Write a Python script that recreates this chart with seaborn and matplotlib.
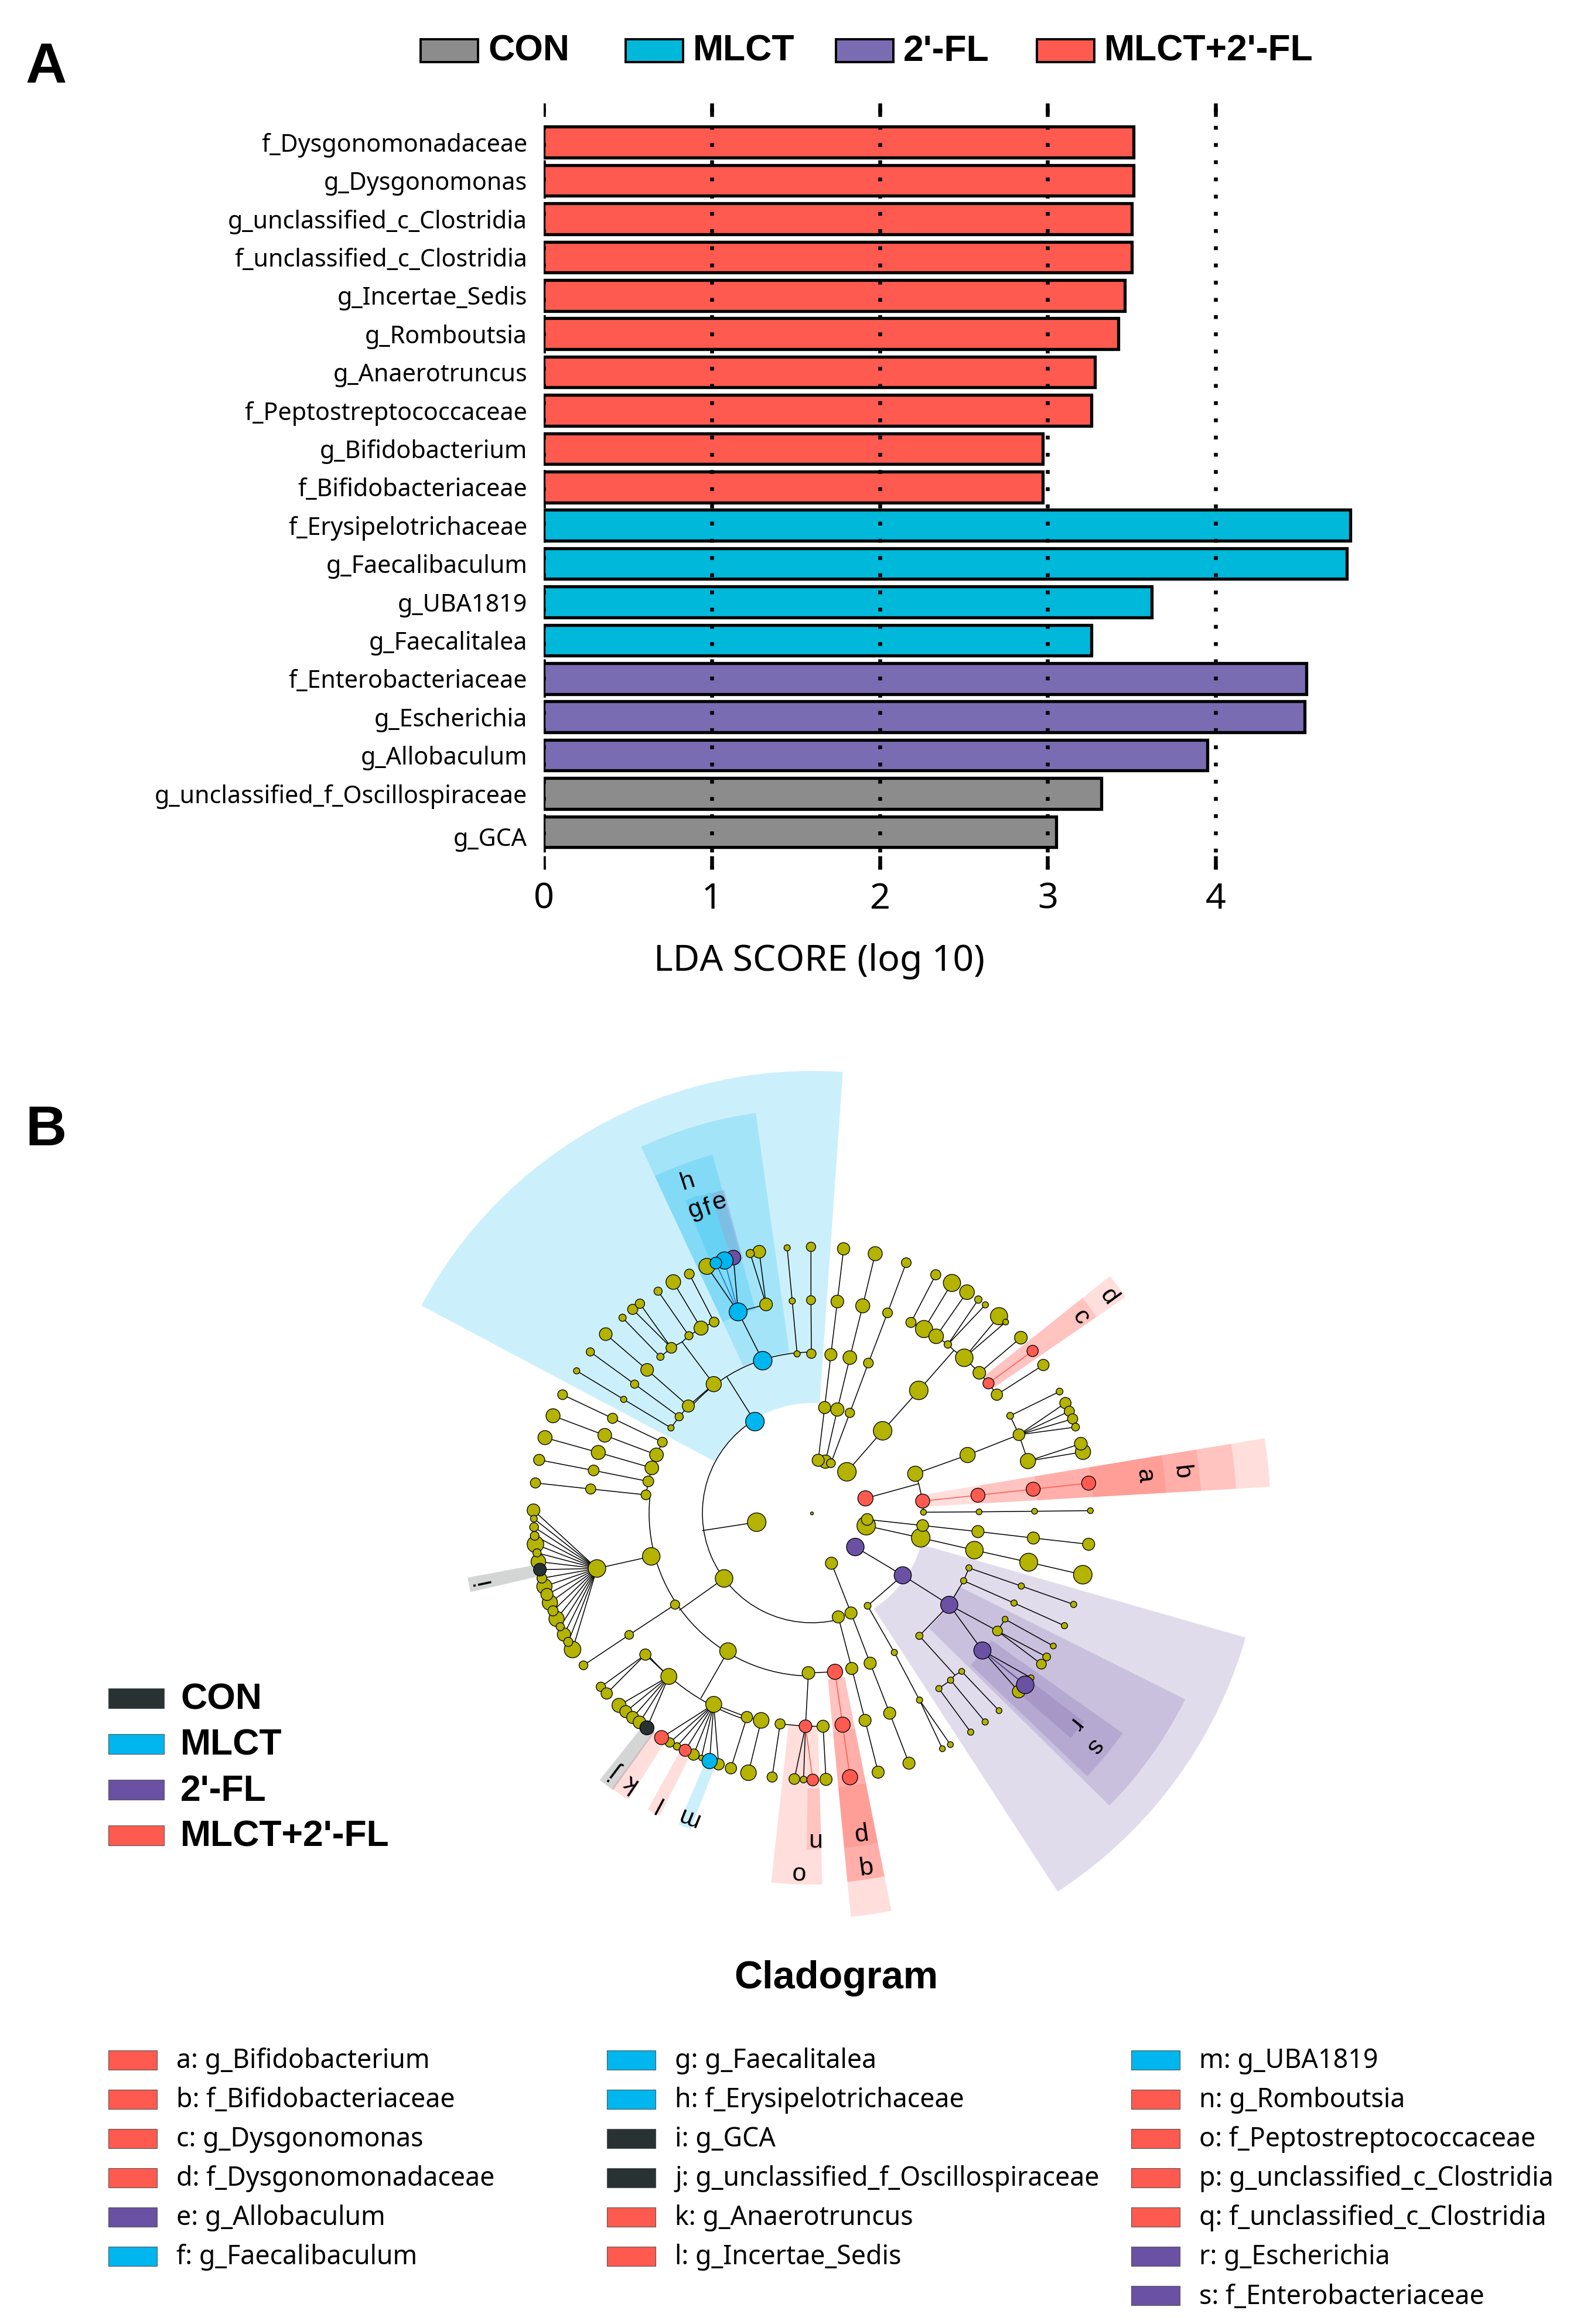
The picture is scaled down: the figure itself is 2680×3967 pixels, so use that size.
import matplotlib
matplotlib.use("Agg")
import matplotlib.pyplot as plt
from matplotlib.patches import Arc, Rectangle, Wedge
from matplotlib.transforms import ScaledTranslation
import pandas as pd
import seaborn as sns

# ── Data ───────────────────────────────────────────────────────────────────────
TAXA = ["f_Dysgonomonadaceae", "g_Dysgonomonas", "g_unclassified_c_Clostridia",
        "f_unclassified_c_Clostridia", "g_Incertae_Sedis", "g_Romboutsia",
        "g_Anaerotruncus", "f_Peptostreptococcaceae", "g_Bifidobacterium",
        "f_Bifidobacteriaceae", "f_Erysipelotrichaceae", "g_Faecalibaculum",
        "g_UBA1819", "g_Faecalitalea", "f_Enterobacteriaceae", "g_Escherichia",
        "g_Allobaculum", "g_unclassified_f_Oscillospiraceae", "g_GCA"]
LDA = [3.51, 3.51, 3.50, 3.50, 3.46, 3.42, 3.28, 3.26, 2.97, 2.97,
       4.80, 4.78, 3.62, 3.26, 4.54, 4.53, 3.95, 3.32, 3.05]
GROUP = ["MLCT+2'-FL"] * 10 + ["MLCT"] * 4 + ["2'-FL"] * 3 + ["CON"] * 2
GROUP_NAMES = ["CON", "MLCT", "2'-FL", "MLCT+2'-FL"]
LDA_TICKS = [0, 1, 2, 3, 4]

KEY_COL1 = [("a: g_Bifidobacterium", "R"), ("b: f_Bifidobacteriaceae", "R"),
            ("c: g_Dysgonomonas", "R"), ("d: f_Dysgonomonadaceae", "R"),
            ("e: g_Allobaculum", "P"), ("f: g_Faecalibaculum", "B")]
KEY_COL2 = [("g: g_Faecalitalea", "B"), ("h: f_Erysipelotrichaceae", "B"),
            ("i: g_GCA", "G"), ("j: g_unclassified_f_Oscillospiraceae", "G"),
            ("k: g_Anaerotruncus", "R"), ("l: g_Incertae_Sedis", "R")]
KEY_COL3 = [("m: g_UBA1819", "B"), ("n: g_Romboutsia", "R"),
            ("o: f_Peptostreptococcaceae", "R"), ("p: g_unclassified_c_Clostridia", "R"),
            ("q: f_unclassified_c_Clostridia", "R"), ("r: g_Escherichia", "P"),
            ("s: f_Enterobacteriaceae", "P")]

# cladogram nodes: id, x, y, diameter, group
# (x, y are in 3x crops of the four quadrants around the tree centre)
NODES_NW = [
    ("n1", 1256, 1040, 95, "B"), ("j1", 1113, 812, 0, "Y"), ("n3", 1296, 728, 95, "B"),
    ("n4", 1045, 848, 78, "Y"), ("n5", 915, 960, 62, "Y"), ("n6", 868, 1015, 42, "Y"),
    ("n7", 826, 1072, 32, "Y"), ("n8", 584, 926, 32, "Y"), ("n9", 343, 780, 32, "Y"),
    ("n10", 640, 848, 42, "Y"), ("n11", 413, 683, 42, "Y"), ("n12", 704, 775, 65, "Y"),
    ("n13", 492, 592, 65, "Y"), ("j2", 883, 632, 0, "Y"), ("n15", 828, 662, 55, "Y"),
    ("n16", 918, 600, 42, "Y"), ("n17", 980, 561, 72, "Y"), ("n18", 1047, 530, 50, "Y"),
    ("n19", 772, 708, 37, "Y"), ("n20", 578, 508, 37, "Y"), ("n21", 630, 465, 52, "Y"),
    ("n22", 667, 436, 48, "Y"), ("n23", 760, 372, 42, "Y"), ("n24", 838, 325, 75, "Y"),
    ("n25", 920, 284, 50, "Y"), ("n26", 1170, 478, 92, "B"), ("n27", 1313, 440, 65, "Y"),
    ("n28", 1010, 245, 82, "Y"), ("e", 1146, 200, 75, "P"), ("f", 1100, 215, 88, "B"),
    ("g", 1056, 228, 60, "B"), ("n32", 1278, 170, 65, "Y"), ("n33", 1232, 179, 42, "Y"),
    ("n34", 1472, 693, 32, "Y"), ("n35", 1447, 422, 32, "Y"), ("n36", 1421, 150, 32, "Y"),
    ("n37", 1545, 692, 48, "Y"), ("n38", 1543, 418, 46, "Y"), ("n39", 1543, 145, 48, "Y"),
    ("n40", 782, 1145, 50, "Y"), ("n41", 527, 1023, 52, "Y"), ("n42", 271, 902, 50, "Y"),
    ("n43", 752, 1210, 70, "Y"), ("n44", 487, 1110, 70, "Y"), ("n45", 222, 1010, 72, "Y"),
    ("n46", 728, 1277, 70, "Y"), ("n47", 454, 1198, 72, "Y"), ("n48", 181, 1122, 72, "Y"),
    ("n49", 710, 1346, 55, "Y"), ("n50", 430, 1290, 55, "Y"), ("n51", 151, 1236, 57, "Y"),
    ("n52", 698, 1415, 50, "Y"), ("n53", 415, 1385, 52, "Y"), ("n54", 132, 1354, 52, "Y"),
    ("core", 1548, 1510, 15, "Y"),
]
NODES_NE = [
    ("m1", 197, 1297, 95, "Y"), ("m2", 380, 1087, 95, "Y"), ("m3", 565, 880, 95, "Y"),
    ("j3", 745, 675, 0, "Y"), ("m5", 714, 645, 38, "Y"), ("m7", 652, 288, 52, "Y"),
    ("m9", 735, 330, 88, "Y"), ("m11", 812, 377, 75, "Y"), ("m12", 870, 415, 38, "Y"),
    ("m13", 906, 442, 32, "Y"), ("m6", 525, 532, 52, "Y"), ("m8", 592, 566, 88, "Y"),
    ("m10", 654, 603, 75, "Y"), ("m4", 798, 713, 90, "Y"), ("m14", 976, 500, 88, "Y"),
    ("m15", 1010, 530, 30, "Y"), ("m16", 875, 790, 65, "Y"), ("m18", 1088, 610, 65, "Y"),
    ("m17", 922, 844, 57, "R"), ("m19", 1148, 678, 58, "R"), ("m20", 965, 902, 58, "Y"),
    ("m21", 1203, 750, 58, "Y"),
    ("m23", 87, 1245, 68, "Y"), ("m22", 50, 1238, 62, "Y"), ("m24", 115, 1253, 45, "Y"),
    ("m25", 83, 968, 62, "Y"), ("m26", 148, 978, 68, "Y"), ("m27", 212, 995, 48, "Y"),
    ("m28", 115, 697, 62, "Y"), ("m29", 212, 712, 70, "Y"), ("m30", 307, 740, 50, "Y"),
    ("m31", 148, 425, 65, "Y"), ("m32", 278, 447, 72, "Y"), ("m33", 405, 483, 50, "Y"),
    ("m34", 180, 155, 63, "Y"), ("m35", 342, 180, 72, "Y"), ("m36", 501, 226, 50, "Y"),
    ("m37", 292, 1433, 78, "R"), ("j4", 565, 1358, 0, "Y"), ("m39", 585, 1447, 72, "R"),
    ("m40", 547, 1307, 78, "Y"), ("m41", 815, 1211, 78, "Y"), ("m42", 1078, 1107, 60, "Y"),
    ("m43", 1033, 1010, 35, "Y"), ("m44", 1286, 886, 35, "Y"), ("m45", 1316, 945, 58, "Y"),
    ("m46", 1336, 987, 52, "Y"), ("m47", 1353, 1026, 52, "Y"), ("m48", 1368, 1068, 40, "Y"),
    ("m49", 1124, 1242, 78, "Y"), ("m50", 1406, 1195, 78, "Y"), ("m51", 1395, 1153, 65, "Y"),
    ("m52", 868, 1417, 72, "R"), ("m53", 1151, 1386, 72, "R"), ("m54", 1435, 1355, 72, "R"),
    ("m55", 589, 1504, 30, "Y"), ("m56", 874, 1502, 30, "Y"), ("m57", 1158, 1499, 30, "Y"),
    ("m58", 1444, 1496, 30, "Y"),
]
NODES_SW = [
    ("p1", 447, 322, 90, "Y"), ("p2", 725, 260, 90, "Y"), ("p3", 1265, 85, 95, "Y"),
    ("j5", 987, 128, 0, "Y"),
    ("t18", 322, 737, 85, "Y"), ("t16", 278, 660, 68, "Y"), ("t14", 240, 580, 78, "Y"),
    ("t12", 206, 497, 78, "Y"), ("t10", 178, 414, 78, "Y"), ("t7", 147, 287, 75, "Y"),
    ("t5", 132, 198, 85, "Y"), ("t1", 122, 24, 65, "Y"), ("t2", 124, 67, 35, "Y"),
    ("t3", 125, 110, 45, "Y"), ("t4", 128, 155, 45, "Y"), ("t6", 140, 242, 42, "Y"),
    ("t9", 165, 372, 50, "Y"), ("t11", 191, 455, 62, "Y"), ("t13", 222, 539, 52, "Y"),
    ("t15", 259, 620, 42, "Y"), ("t17", 300, 698, 47, "Y"), ("t8", 155, 328, 65, "G"),
    ("u1", 847, 507, 47, "Y"), ("u2", 612, 662, 45, "Y"), ("u3", 378, 818, 45, "Y"),
    ("u4", 1098, 373, 90, "Y"), ("j6", 870, 535, 0, "Y"), ("u5", 1118, 745, 85, "Y"),
    ("j7", 980, 985, 0, "Y"), ("u6", 1530, 857, 65, "Y"), ("u7", 1515, 1130, 65, "R"),
    ("u8", 1385, 1118, 52, "Y"), ("u10", 1344, 1390, 52, "Y"), ("u11", 1458, 1400, 55, "Y"),
    ("u12", 1505, 1403, 35, "Y"),
    ("v1", 695, 763, 58, "Y"), ("v2", 815, 875, 82, "Y"), ("v3", 1045, 1018, 82, "Y"),
    ("v4", 1215, 1083, 58, "Y"), ("v5", 1288, 1100, 80, "Y"), ("w1", 1133, 1345, 58, "Y"),
    ("w2", 1223, 1368, 80, "Y"), ("x1", 467, 928, 48, "Y"), ("x2", 497, 962, 58, "Y"),
    ("y1", 560, 1023, 72, "Y"), ("y2", 595, 1055, 62, "Y"), ("y3", 630, 1085, 62, "Y"),
    ("y4", 665, 1110, 65, "Y"), ("y5", 703, 1138, 72, "G"),
    ("z8", 1070, 1325, 58, "Y"), ("z6", 982, 1292, 28, "Y"), ("z5", 942, 1275, 58, "Y"),
    ("z3", 857, 1233, 38, "Y"), ("z2", 820, 1213, 48, "Y"), ("z1", 778, 1188, 72, "R"),
    ("z4", 899, 1253, 62, "R"), ("z7", 1024, 1308, 78, "B"),
]
NODES_SE = [
    ("a1", 296, 103, 95, "Y"), ("a2", 301, 71, 60, "Y"), ("a4", 575, 165, 95, "Y"),
    ("a3", 585, 102, 60, "Y"), ("a5", 868, 133, 62, "Y"), ("a6", 1152, 166, 62, "Y"),
    ("a7", 1435, 198, 62, "Y"), ("a8", 850, 228, 90, "Y"), ("a9", 1128, 290, 92, "Y"),
    ("a10", 1405, 354, 95, "Y"),
    ("b1", 240, 212, 90, "P"), ("b2", 483, 357, 88, "P"), ("b3", 721, 508, 88, "P"),
    ("b4", 303, 513, 35, "Y"), ("b5", 795, 385, 32, "Y"), ("b6", 1053, 499, 32, "Y"),
    ("b7", 1311, 615, 32, "Y"), ("b8", 822, 319, 32, "Y"), ("b9", 1090, 412, 32, "Y"),
    ("b10", 1358, 506, 32, "Y"),
    ("c1", 968, 642, 50, "Y"), ("c4", 1007, 582, 30, "Y"), ("c5", 1254, 719, 30, "Y"),
    ("c6", 1220, 775, 40, "Y"), ("c7", 1193, 812, 50, "Y"), ("c2", 568, 667, 37, "Y"),
    ("c3", 891, 742, 88, "P"), ("c9", 1077, 952, 65, "Y"), ("c10", 1140, 882, 30, "Y"),
    ("c8", 1110, 918, 90, "P"), ("j8", 750, 868, 0, "Y"), ("c11", 785, 849, 30, "Y"),
    ("c12", 976, 1050, 30, "Y"), ("c13", 728, 894, 32, "Y"), ("c14", 905, 1108, 32, "Y"),
    ("c15", 668, 937, 32, "Y"), ("c16", 831, 1160, 32, "Y"),
    ("c17", 440, 752, 32, "Y"), ("c18", 569, 996, 32, "Y"), ("c19", 686, 1245, 30, "Y"),
    ("c20", 727, 1224, 30, "Y"),
    ("d1", 118, 295, 62, "Y"), ("d2", 218, 550, 62, "Y"), ("d4", 316, 807, 62, "Y"),
    ("d5", 416, 1063, 62, "Y"), ("d6", 515, 1319, 62, "Y"), ("d3", 153, 570, 62, "Y"),
    ("d7", 222, 834, 62, "Y"), ("d8", 290, 1100, 62, "Y"), ("d9", 357, 1365, 62, "Y"),
    ("e1", 136, 851, 78, "R"), ("e2", 175, 1122, 78, "R"), ("e3", 213, 1391, 78, "R"),
    ("f1", 75, 1130, 62, "Y"), ("f2", 90, 1402, 62, "Y"), ("f3", 22, 1405, 60, "R"),
]

# branches between nodes, as chains of node ids
BRANCHES = [
    ["n1", "j1"], ["n3", "n26", "n28"], ["n26", "e"], ["n26", "n27", "n32"], ["n27", "n33"],
    ["n34", "n35", "n36"], ["n37", "n38", "n39"], ["n4", "j2", "n15", "n19", "n20"],
    ["n15", "n21"], ["n15", "n22"], ["j2", "n16", "n23"], ["n16", "n17", "n24"],
    ["n17", "n18", "n25"], ["n4", "n5", "n12", "n13"], ["n5", "n6", "n10", "n11"],
    ["n6", "n7", "n8", "n9"], ["n40", "n41", "n42"], ["n43", "n44", "n45"],
    ["n46", "n47", "n48"], ["n49", "n50", "n51"], ["n52", "n53", "n54"],
    ["n52", "n49", "n46", "n43", "n40"],
    ["m1", "m2", "m3", "j3", "m4"], ["j3", "m5", "m10", "m11"], ["m10", "m8", "m9"],
    ["m8", "m6", "m7"], ["m5", "m12"], ["m5", "m13"], ["m4", "m14"], ["m4", "m15"],
    ["m4", "m16", "m17", "m20", "m21"], ["m16", "m18"],
    ["m22", "m25", "m28", "m31", "m34"], ["m23", "m26", "m29", "m32", "m35"],
    ["m24", "m27", "m30", "m33", "m36"], ["m37", "j4", "m40", "m41", "m42", "m43", "m44"],
    ["j4", "m39", "m55", "m56", "m57", "m58"], ["m42", "m45"], ["m42", "m46"], ["m42", "m47"],
    ["m42", "m48"], ["m42", "m49", "m50"], ["m49", "m51"],
    ["p2", "p1"], ["p3", "j5"], ["u1", "u2", "u3"], ["u4", "j6"], ["u5", "j7"], ["u6", "u7"],
    ["u7", "u8", "u10"], ["u7", "u11"], ["u7", "u12"], ["v1", "v2"], ["v3", "v4", "v5", "w2"],
    ["v4", "w1"], ["v1", "x1"], ["v1", "x2"], ["v2", "y1"], ["v2", "y2"], ["v2", "y3"],
    ["v2", "y4"], ["v2", "y5"], ["v3", "z1"], ["v3", "z2"], ["v3", "z3"], ["v3", "z4"],
    ["v3", "z5"], ["v3", "z6"], ["v3", "z7"], ["v3", "z8"],
    ["a2", "a3", "a5", "a6", "a7"], ["a1", "a4", "a8", "a9", "a10"],
    ["b1", "b2", "b3", "c3", "c8"], ["b2", "b4", "c17", "c18", "c19"], ["c18", "c20"],
    ["b3", "b5", "b6", "b7"], ["b5", "b8", "b9", "b10"], ["b3", "c1", "c4", "c5"],
    ["c1", "c6"], ["c1", "c7"], ["b3", "c2", "j8"], ["c3", "c9"], ["c3", "c10"],
    ["c15", "c13", "j8", "c11", "c12"], ["c13", "c14"], ["c15", "c16"],
    ["d1", "d2", "d4", "d5", "d6"], ["d3", "d7", "d8", "d9"], ["u7", "f1", "f2"],
    ["t1", "p1"], ["t2", "p1"], ["t3", "p1"], ["t4", "p1"], ["t5", "p1"], ["t6", "p1"],
    ["t7", "p1"], ["t8", "p1"], ["t9", "p1"], ["t10", "p1"], ["t11", "p1"], ["t12", "p1"],
    ["t13", "p1"], ["t14", "p1"], ["t15", "p1"], ["t16", "p1"], ["t17", "p1"], ["t18", "p1"],
]
RED_BRANCHES = [["m39", "m52", "m53", "m54"], ["m17", "m19"], ["e1", "e2", "e3"], ["u7", "f3"]]
BLUE_BRANCHES = [["n26", "f"], ["n26", "g"]]
PURPLE_BRANCHES = [["c3", "c8"]]
RING_ARCS = [(187, 122, 284), (278, 174, 270), (275, 90, 139), (370, 220, 252)]
STUB_BRANCHES = [["u6", "e1"]]

# clade shades: start angle, end angle, inner radius, outer radius, group
SHADES = [
    (86, 152, 188, 755, "B"), (98, 115, 277, 690, "B"), (105.5, 115, 360, 635, "B"),
    (109.5, 112, 450, 576, "B"), (107.6, 109.5, 450, 574, "B"), (105.2, 107.6, 450, 572, "P"),
    (34.6, 38.5, 375, 650, "R"), (34.6, 38.5, 375, 590, "R"),
    (3.3, 9.4, 195, 783, "R"), (3.3, 9.4, 290, 725, "R"), (3.3, 9.4, 385, 665, "R"),
    (3.3, 9.4, 480, 605, "R"),
    (-57, -16, 194, 770, "P"), (-44.5, -26.5, 280, 712, "P"), (-43.7, -35.3, 375, 650, "P"),
    (-41, -37.5, 470, 585, "P"),
    (263.7, 271.6, 364, 634, "R"), (269.1, 271.6, 470, 574, "R"),
    (275.5, 281.3, 285, 692, "R"), (275.5, 281.3, 285, 632, "R"), (275.5, 281.3, 375, 632, "R"),
    (275.5, 281.3, 470, 574, "R"),
    (234, 237.3, 460, 581, "R"), (231.5, 234.3, 460, 582, "G"), (241, 243.3, 465, 578, "R"),
    (246.8, 249, 465, 578, "B"), (190.6, 193, 470, 598, "G"),
]

# clade letters: letter, x, y, rotation
CLADE_LETTERS = [
    ("h", 1174, 2017, 18), ("g", 1187, 2065, 20), ("f", 1208, 2063, 18), ("e", 1228, 2052, 16),
    ("c", 1844, 2248, -54), ("d", 1892, 2213, -54), ("a", 1953, 2519, -84), ("b", 2016, 2513, -84),
    ("r", 1833, 2943, -129), ("s", 1868, 2981, -129), ("i", 825, 2700, 102), ("j", 1052, 3025, 143),
    ("k", 1074, 3043, 146), ("l", 1124, 3077, 152), ("m", 1174, 3101, 158), ("n", 1388, 3140, 180),
    ("o", 1362, 3196, 177), ("p", 1466, 3129, 188), ("q", 1476, 3186, 188),
]

# ── Styling ────────────────────────────────────────────────────────────────────
W, H = 2680, 3967
CENTER = (1386, H - 2583)
QUADRANTS = {"NW": (870, 2080), "NE": (1380, 2080), "SW": (870, 2570), "SE": (1380, 2570)}
BAR_COLORS = {"CON": "#8c8c8c", "MLCT": "#00b8da", "2'-FL": "#7a6cb3", "MLCT+2'-FL": "#ff5a50"}
NODE_COLORS = {"Y": "#b3b300", "R": "#ff5a50", "B": "#00b6ee", "P": "#6a51a3", "G": "#283233"}
GROUP_KEY = {"CON": "G", "MLCT": "B", "2'-FL": "P", "MLCT+2'-FL": "R"}
TEXT_FONT = "Liberation Sans"

sns.set_theme(style="white")
plt.rcParams["font.family"] = ["Noto Sans", "DejaVu Sans"]

fig = plt.figure(figsize=(W / 100, H / 100), dpi=100, facecolor="white")
ax_px = fig.add_axes([0, 0, 1, 1], zorder=0)
ax_px.set_xlim(0, W)
ax_px.set_ylim(0, H)
ax_px.axis("off")

# ── A: LDA bars ────────────────────────────────────────────────────────────────
AX_L, AX_R, AX_T, AX_B = 928, 2319, 176, 1484
ax = fig.add_axes([AX_L / W, 1 - AX_B / H, (AX_R - AX_L) / W, (AX_B - AX_T) / H], zorder=1)
ax.patch.set_alpha(0)
bars = pd.DataFrame({"taxon": TAXA, "lda": LDA, "group": GROUP})
sns.barplot(data=bars, x="lda", y="taxon", hue="group", palette=BAR_COLORS, order=TAXA,
            dodge=False, legend=False, width=0.805, saturation=1, edgecolor="black",
            linewidth=3.8, ax=ax)
ax.set_xlim(0, 4.85)
ax.set_ylim(18.98, -1.02)
ax.set_xticks(LDA_TICKS)
# dotted guides run over the bars, starting from the bottom of the axes
ax.vlines(LDA_TICKS, 18.98, -1.02, color="black", lw=4.7, linestyle=(0, (1, 3.5)), zorder=5)
ax.grid(False)
ax.tick_params(axis="x", which="major", direction="in", top=True, bottom=True, length=16.5,
               width=4.7, color="black", pad=15, labelsize=44, labelcolor="black")
ax.tick_params(axis="y", length=0, pad=20, labelsize=29.7, labelcolor="black")
for tick in ax.xaxis.get_major_ticks():
    for mark in (tick.tick1line, tick.tick2line):
        mark.set_clip_on(True)
        mark.set_clip_box(ax.bbox)
# the last taxon label sits a little below its bar in the original
last_label = ax.get_yticklabels()[-1]
last_label.set_transform(last_label.get_transform()
                         + ScaledTranslation(0, -8 / 100, fig.dpi_scale_trans))
ax.set_ylabel("")
ax.set_xlabel("LDA SCORE (log 10)", fontsize=45, color="black", va="center")
ax.xaxis.set_label_coords(0.3386, -0.12)
sns.despine(ax=ax, left=True, bottom=True, top=True, right=True)


def put_text(x, y, text, **kw):
    kw.setdefault("va", "center")
    kw.setdefault("color", "black")
    ax_px.text(x, H - y, text, **kw)


def put_box(x0, x1, y0, y1, **kw):
    ax_px.add_patch(Rectangle((x0, H - y1), x1 - x0, y1 - y0, **kw))


put_text(44, 116, "A", fontsize=70, fontweight="bold", family=TEXT_FONT)
put_text(44, 1930, "B", fontsize=70, fontweight="bold", family=TEXT_FONT)

TOP_KEY_X = [718, 1068, 1427, 1770]
for name, x0 in zip(GROUP_NAMES, TOP_KEY_X):
    put_box(x0, x0 + 98, 67, 106, facecolor=BAR_COLORS[name], edgecolor="black", lw=2.8)
    put_text(x0 + 115, 87, name, fontsize=45, fontweight="bold", family=TEXT_FONT)

# ── B: cladogram ───────────────────────────────────────────────────────────────
rows = []
for quad, table in zip(QUADRANTS, [NODES_NW, NODES_NE, NODES_SW, NODES_SE]):
    ox, oy = QUADRANTS[quad]
    for nid, cx, cy, dia, grp in table:
        rows.append({"id": nid, "x": ox + cx / 3, "y": H - (oy + cy / 3), "dia": dia, "group": grp})
nodes = pd.DataFrame(rows).set_index("id", drop=False)

for start, end, r0, r1, grp in SHADES:
    ax_px.add_patch(Wedge(CENTER, r1, start, end, width=r1 - r0, facecolor=NODE_COLORS[grp],
                          alpha=0.2, lw=0, zorder=1))

for radius, start, end in RING_ARCS:
    ax_px.add_patch(Arc(CENTER, 2 * radius, 2 * radius, theta1=start, theta2=end,
                        color="black", lw=1.1, zorder=2))


def draw_chains(chains, color, lw=1.1):
    for chain in chains:
        ax_px.plot(nodes.loc[chain, "x"], nodes.loc[chain, "y"], color=color, lw=lw, zorder=2,
                   solid_capstyle="round")


draw_chains(BRANCHES, "black")
draw_chains(STUB_BRANCHES, "black")
draw_chains(RED_BRANCHES, NODE_COLORS["R"])
draw_chains(BLUE_BRANCHES, "#0a6fd0")
draw_chains(PURPLE_BRANCHES, NODE_COLORS["P"])

visible = nodes[nodes["dia"] > 0]
sns.scatterplot(data=visible, x="x", y="y", hue="group", palette=NODE_COLORS, legend=False,
                s=(visible["dia"] / 3 * 0.72) ** 2, edgecolor="black", linewidth=0.95,
                zorder=3, ax=ax_px)
ax_px.set_xlabel("")
ax_px.set_ylabel("")

for letter, x, y, rot in CLADE_LETTERS:
    put_text(x, y, letter, fontsize=31, rotation=rot, ha="center", family=TEXT_FONT,
             rotation_mode="anchor", zorder=4)

SIDE_KEY_Y = [2899, 2977, 3055, 3133]
for name, yc in zip(GROUP_NAMES, SIDE_KEY_Y):
    put_box(185, 280, yc - 17, yc + 17, facecolor=NODE_COLORS[GROUP_KEY[name]],
            edgecolor="#555555", lw=0.8)
    put_text(308, yc + 2, name, fontsize=45, fontweight="bold", family=TEXT_FONT)

put_text(1427, 3377, "Cladogram", fontsize=48, fontweight="bold", ha="center", family=TEXT_FONT)

KEY_COLUMNS = [(KEY_COL1, 185, 301), (KEY_COL2, 1036, 1152), (KEY_COL3, 1931, 2047)]
for entries, box_x, text_x in KEY_COLUMNS:
    for i, (label, grp) in enumerate(entries):
        yc = 3516 + 67.1 * i
        put_box(box_x, box_x + 83, yc - 16.5, yc + 16.5, facecolor=NODE_COLORS[grp],
                edgecolor="#555555", lw=0.8)
        put_text(text_x, yc + 2, label, fontsize=32.2)

fig.savefig("out.png", dpi=100)
